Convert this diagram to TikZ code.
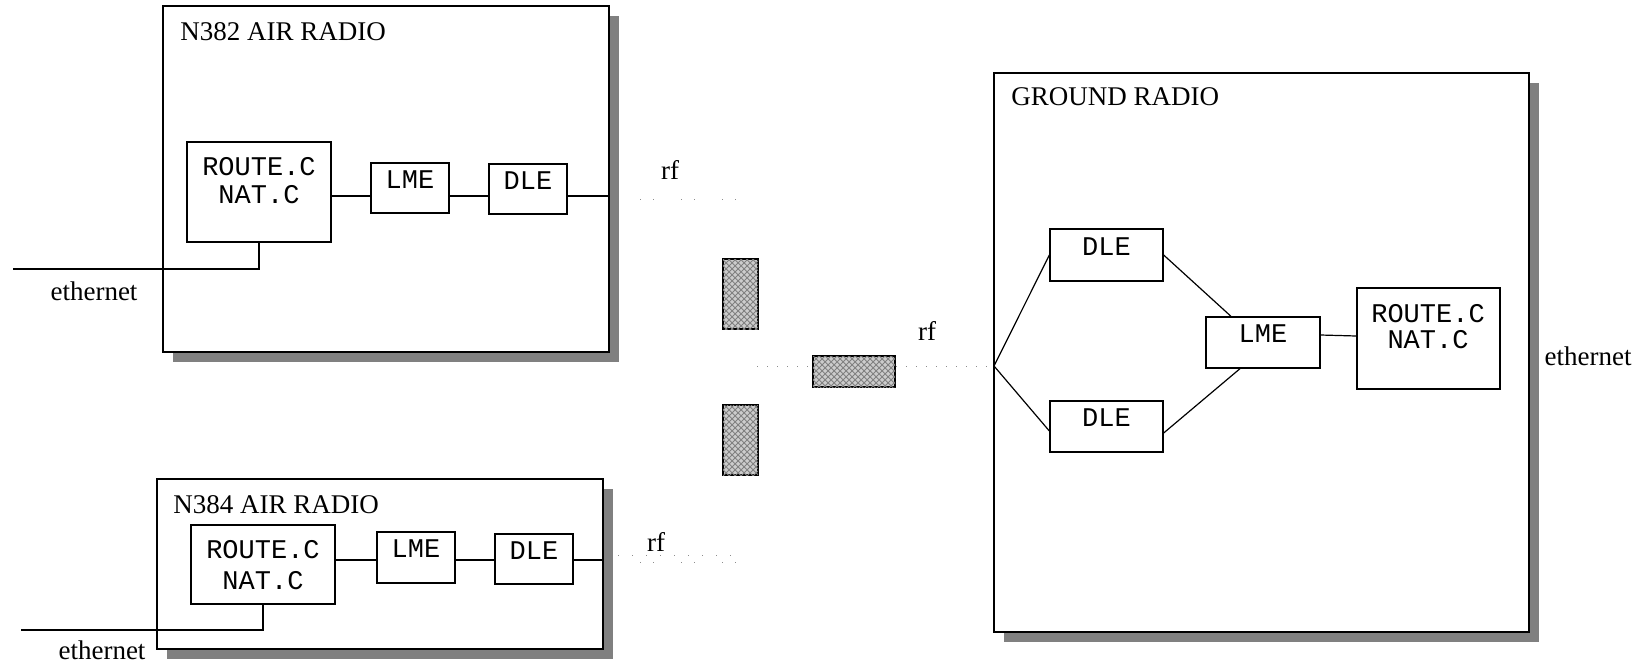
\documentclass[tikz,border=0pt]{standalone}
\usepackage{fontspec}
\setmainfont{Liberation Serif}
\newfontfamily\monof{Liberation Mono}
\usetikzlibrary{fit,shadows,patterns}
\begin{document}
\begin{tikzpicture}[x=0.5pt,y=-0.5pt,
  radiobox/.style={draw, line width=0.8pt, fill=white, inner sep=0pt,
    drop shadow={shadow xshift=4.75pt, shadow yshift=-4.75pt, fill=black!50, opacity=1}},
  modbox/.style={draw, line width=0.65pt, fill=white, inner sep=0pt,
    font=\monof\fontsize{13.5pt}{16pt}\selectfont},
  monotext/.style={font=\monof\fontsize{13.5pt}{16pt}\selectfont, inner sep=0pt, anchor=base},
  titletext/.style={font=\fontsize{13.5pt}{16pt}\selectfont, inner sep=0pt, anchor=base west},
  lbl/.style={font=\fontsize{13.5pt}{16pt}\selectfont, inner sep=0pt, anchor=base},
  wire/.style={line width=0.6pt},
  rfpair/.style={draw=black!45, line width=0.5pt, dash pattern=on 0.5pt off 6pt on 0.5pt off 13.5pt},
  rfeven/.style={draw=black!45, line width=0.5pt, dash pattern=on 0.5pt off 4.5pt},
  antenna/.style={draw, line width=0.75pt, fill=gray!40, inner sep=0pt,
    postaction={pattern=crosshatch, pattern color=gray}},
]
\useasboundingbox (0,0) rectangle (1642,665);

% ---------- N382 AIR RADIO ----------
\node[radiobox, fit={(163,6) (609,352)}] (air1) {};
\node[titletext] (t1) at (180,40) {N382 AIR RADIO};
\node[modbox, fit={(187,142) (331,242)}] (r1) {};
\node[monotext] (r1a) at (259,175) {ROUTE.C};
\node[monotext] (r1b) at (259,203) {NAT.C};
\node[modbox, fit={(371,163) (449,213)}] (l1) {LME};
\node[modbox, fit={(489,164) (567,214)}] (d1) {DLE};
\draw[wire] (r1.east |- 0,196) -- (l1.west |- 0,196);
\draw[wire] (l1.east |- 0,196) -- (d1.west |- 0,196);
\draw[wire] (d1.east |- 0,196) -- (air1.east |- 0,196);
\coordinate (e1) at (13,269);
\draw[wire] (e1) -| (r1.south);
\node[lbl] (eth1) at (94,300) {ethernet};
\coordinate (rf1a) at (640,199);
\coordinate (rf1b) at (737,199);
\draw[rfpair] (rf1a) -- (rf1b);
\node[lbl] (rf1) at (670,179) {rf};

% ---------- N384 AIR RADIO ----------
\node[radiobox, fit={(157,479) (603,649)}] (air2) {};
\node[titletext] (t2) at (173,513) {N384 AIR RADIO};
\node[modbox, fit={(191,525) (335,604)}] (r2) {};
\node[monotext] (r2a) at (263,558) {ROUTE.C};
\node[monotext] (r2b) at (263,589) {NAT.C};
\node[modbox, fit={(377,532) (455,583)}] (l2) {LME};
\node[modbox, fit={(495,534) (573,584)}] (d2) {DLE};
\draw[wire] (r2.east |- 0,560) -- (l2.west |- 0,560);
\draw[wire] (l2.east |- 0,560) -- (d2.west |- 0,560);
\draw[wire] (d2.east |- 0,560) -- (air2.east |- 0,560);
\coordinate (e2) at (21,630);
\draw[wire] (e2) -| (r2.south);
\node[lbl] (eth2) at (102,659) {ethernet};
\coordinate (rf3a) at (618,555);
\coordinate (rf3b) at (744,555);
\coordinate (rf3c) at (640,562);
\coordinate (rf3d) at (737,562);
\draw[rfeven, dash pattern=on 0.5pt off 6.5pt] (rf3a) -- (rf3b);
\draw[rfpair] (rf3c) -- (rf3d);
\node[lbl] (rf3) at (656,551) {rf};

% ---------- antennas / middle rf ----------
\node[antenna, fit={(723,259) (758,329)}] (ant1) {};
\node[antenna, fit={(813,356) (895,387)}] (ant2) {};
\node[antenna, fit={(723,405) (758,475)}] (ant3) {};

% ---------- GROUND RADIO ----------
\node[radiobox, fit={(994,73) (1529,632)}] (gnd) {};
\node[titletext] (t3) at (1011,105) {GROUND RADIO};
\node[modbox, fit={(1050,229) (1163,281)}] (dA) {DLE};
\node[modbox, fit={(1050,401) (1163,452)}] (dB) {DLE};
\node[modbox, fit={(1206,317) (1320,368)}] (lg) {LME};
\node[modbox, fit={(1357,288) (1500,389)}] (rg) {};
\node[monotext] (rga) at (1428,322) {ROUTE.C};
\node[monotext] (rgb) at (1428,348) {NAT.C};
\coordinate (fork) at (994,366);
\draw[wire] (fork) -- (dA.west |- 0,255);
\draw[wire] (fork) -- (dB.west |- 0,431);
\draw[wire] (dA.east |- 0,255) -- (lg.north -| 1231,0);
\draw[wire] (dB.east |- 0,433) -- (lg.south -| 1240,0);
\draw[wire] (lg.east |- 0,335) -- (rg.west |- 0,336);
\node[lbl] (eth3) at (1588,365) {ethernet};

\coordinate (rf2a) at (757,366);
\draw[rfeven] (rf2a) -- (ant2.west |- rf2a);
\draw[rfeven] (ant2.east |- fork) -- (fork);
\node[lbl] (rf2) at (927,340) {rf};
\end{tikzpicture}
\end{document}
